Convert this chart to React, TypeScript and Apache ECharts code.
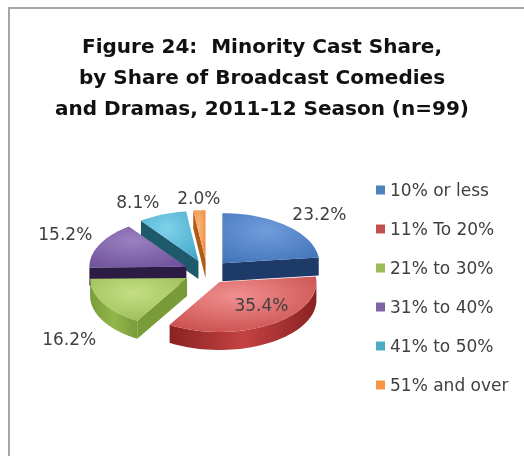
import React, { useEffect, useRef } from "react";
import * as echarts from "echarts";

const TITLE_LINES = [
  "Figure 24:  Minority Cast Share,",
  "by Share of Broadcast Comedies",
  "and Dramas, 2011-12 Season (n=99)",
];
const CATEGORIES = ["10% or less", "11% To 20%", "21% to 30%", "31% to 40%", "41% to 50%", "51% and over"];
const COUNTS = [23, 35, 16, 15, 8, 2];
const BASE_COLORS = ["#4f81bd", "#c0504d", "#9bbb59", "#8064a2", "#4bacc6", "#f79646"];
const TOP_LIGHT = ["#6f9cdc", "#f09090", "#c4df84", "#9a80c2", "#80d2ea", "#fbb478"];
const TOP_DARK = ["#3e70b6", "#c44242", "#92b64c", "#6a4c94", "#3ca4c4", "#ea8636"];
const SIDE_COLORS = ["#1d3a68", "#8a2222", "#7a9c38", "#2c1c44", "#1e5a6c", "#b05a18"];

const FONT = "'DejaVu Sans', sans-serif";

export default function App() {
  const ref = useRef<HTMLDivElement>(null);
  useEffect(() => {
    if (!ref.current) return;
    const chart = echarts.init(ref.current, undefined, { renderer: "svg" });
    const total = COUNTS.reduce((a, b) => a + b, 0);
    const CX = 207, CY = 272, RX = 97, RY = 50, DEPTH = 18, EXPLODE = 23;
    const starts: number[] = [];
    let acc = 0;
    COUNTS.forEach((c) => { starts.push(acc); acc += c; });

    const makeRender = (i: number) => (params: any, api: any) => {
      const v = api.value(0);
      const a0 = (starts[i] / total) * Math.PI * 2;
      const a1 = ((starts[i] + v) / total) * Math.PI * 2;
      const mid = (a0 + a1) / 2;
      const vx = CX + EXPLODE * Math.sin(mid);
      const vy = CY - EXPLODE * (RY / RX) * Math.cos(mid);
      const pt = (a: number, dy: number) => [vx + RX * Math.sin(a), vy - RY * Math.cos(a) + dy];
      const arc = (s: number, e: number, dy: number) => {
        const n = Math.max(2, Math.ceil(((e - s) / (Math.PI * 2)) * 120));
        const out: number[][] = [];
        for (let k = 0; k <= n; k++) out.push(pt(s + ((e - s) * k) / n, dy));
        return out;
      };
      const base = Math.round(vy) * 10;
      const children: any[] = [];
      const ws = Math.max(a0, Math.PI / 2);
      const we = Math.min(a1, (Math.PI * 3) / 2);
      if (we > ws) {
        const pts = arc(ws, we, 0).concat(arc(ws, we, DEPTH).reverse());
        children.push({
          type: "polygon", z2: base + 1,
          shape: { points: pts },
          style: {
            fill: {
              type: "linear", x: 0, y: 0, x2: 1, y2: 0,
              colorStops: [
                { offset: 0, color: SIDE_COLORS[i] },
                { offset: 0.5, color: TOP_DARK[i] },
                { offset: 1, color: SIDE_COLORS[i] },
              ],
            },
          },
        });
      }
      const wall = (a: number) => {
        const p = pt(a, 0);
        return {
          type: "polygon", z2: base + 2,
          shape: { points: [[vx, vy], p, [p[0], p[1] + DEPTH], [vx, vy + DEPTH]] },
          style: { fill: SIDE_COLORS[i] },
        };
      };
      if (Math.sin(a0) < -1e-6) children.push(wall(a0));
      if (Math.sin(a1) > 1e-6) children.push(wall(a1));
      children.push({
        type: "polygon", z2: base + 3,
        shape: { points: [[vx, vy]].concat(arc(a0, a1, 0)) },
        style: {
          fill: {
            type: "radial", x: 0.45, y: 0.35, r: 0.85,
            colorStops: [
              { offset: 0, color: TOP_LIGHT[i] },
              { offset: 1, color: TOP_DARK[i] },
            ],
          },
        },
      });
      const frac = v / total;
      const text = (frac * 100).toFixed(1) + "%";
      const s = Math.sin(mid), c = Math.cos(mid);
      let lx: number, ly: number, align: string, valign: string;
      if (frac > 0.3) {
        lx = vx + RX * 0.8 * s;
        ly = vy - RY * 0.55 * c;
        align = "center"; valign = "middle";
      } else {
        lx = vx + (RX + 8) * s;
        ly = vy - (c > 0 ? RY + 4 : RY) * c + (c < 0 ? DEPTH + 10 : 0);
        align = s > 0.3 ? "left" : s < -0.3 ? "right" : "center";
        valign = c > 0.3 ? "bottom" : c < -0.3 ? "top" : "middle";
      }
      children.push({
        type: "text", z2: 100000,
        style: {
          x: lx, y: ly, text, align, verticalAlign: valign,
          fill: "#404040", fontSize: 17, fontFamily: FONT,
        },
      });
      return { type: "group", children };
    };

    chart.setOption({
      animation: false,
      color: BASE_COLORS,
      title: {
        text: TITLE_LINES.join("\n"),
        left: "center",
        top: 25,
        textStyle: { fontSize: 20, fontWeight: "bold", color: "#111", fontFamily: FONT, lineHeight: 31 },
      },
      legend: {
        orient: "vertical",
        left: 371,
        top: 175,
        icon: "rect",
        itemWidth: 9,
        itemHeight: 9,
        itemGap: 19,
        selectedMode: false,
        data: CATEGORIES,
        textStyle: { fontSize: 17, color: "#404040", fontFamily: FONT, lineHeight: 20 },
      },
      series: CATEGORIES.map((name, i) => ({
        type: "custom",
        name,
        coordinateSystem: "none",
        renderItem: makeRender(i),
        itemStyle: { color: BASE_COLORS[i] },
        data: [[COUNTS[i]]],
      })),
    });
    return () => chart.dispose();
  }, []);
  return (
    <>
      <div style={{ position: "fixed", left: 8, top: 7, width: 516, height: 449, borderTop: "2px solid #a6a6a6", borderLeft: "2px solid #a6a6a6" }} />
      <div ref={ref} style={{ position: "fixed", left: 0, top: 0, width: 524, height: 456 }} />
    </>
  );
}
